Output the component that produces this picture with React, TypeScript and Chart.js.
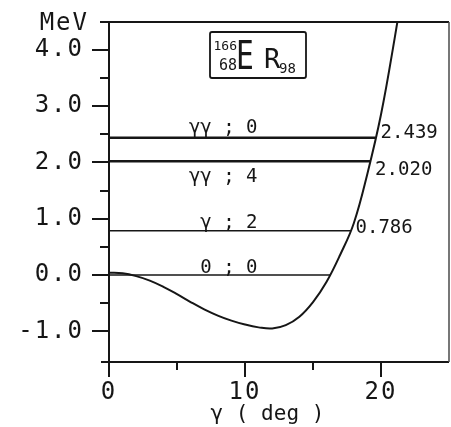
import { useEffect, useRef } from 'react';
import { Chart, registerables } from 'chart.js';

Chart.register(...registerables);

// ---- data ----
const GAMMA_DEG = [0, 1, 2, 3, 4, 5, 6, 7, 8, 9, 10, 11, 12, 13, 14, 15, 16, 17, 18, 19, 20, 21, 22];
const ENERGY_MEV = [0.04, 0.03, -0.02, -0.1, -0.21, -0.34, -0.48, -0.61, -0.72, -0.81, -0.88, -0.93, -0.95, -0.89, -0.74, -0.48, -0.12, 0.36, 0.92, 1.8, 2.85, 4.2, 5.7];

const LEVEL_ENERGY = [0, 0.786, 2.02, 2.439];
const LEVEL_END_GAMMA = [16.25, 17.76, 19.2, 19.6];
const LEVEL_NAMES = ['0 ; 0', 'γ ; 2', 'γγ ; 4', 'γγ ; 0'];
const LEVEL_VALUE_LABELS = ['', '0.786', '2.020', '2.439'];

const Y_MAJOR = [-1, 0, 1, 2, 3, 4];
const Y_MINOR = [-0.5, 0.5, 1.5, 2.5, 3.5];
const X_MAJOR = [0, 10, 20];
const X_MINOR = [5, 15];

const Y_UNIT = 'MeV';
const X_TITLE = 'γ ( deg )';

// ---- layout / style (not data) ----
const INK = '#161616';
const MONO = '"DejaVu Sans Mono", monospace';
const LEVEL_LINE_WIDTH = [1.4, 1.4, 2.6, 2.6];
const NAME_ANCHOR_GAMMA = 10.92;
const NAME_DY = [-2, -3, 21, -5];
const VALUE_DY = [0, 2, 14, 0.5];

const framePlugin = {
  id: 'frame',
  beforeDraw(chart: any) {
    (chart.ctx as any).letterSpacing = '2px';
  },
  afterDraw(chart: any) {
    const ctx = chart.ctx as CanvasRenderingContext2D & { letterSpacing: string };
    const { left, right, top, bottom } = chart.chartArea;
    const xs = chart.scales.x;
    const ys = chart.scales.y;
    ctx.save();
    ctx.strokeStyle = INK;
    ctx.fillStyle = INK;
    ctx.lineCap = 'butt';

    // frame
    ctx.lineWidth = 2;
    ctx.beginPath();
    ctx.moveTo(left, top);
    ctx.lineTo(left, bottom + 15);
    ctx.moveTo(left - 9, top);
    ctx.lineTo(right, top);
    ctx.moveTo(left - 8, bottom);
    ctx.lineTo(right, bottom);
    ctx.stroke();
    ctx.strokeStyle = '#4a4a4a';
    ctx.lineWidth = 1.5;
    ctx.beginPath();
    ctx.moveTo(right, top);
    ctx.lineTo(right, bottom);
    ctx.stroke();

    // tick marks
    ctx.strokeStyle = INK;
    ctx.lineWidth = 2;
    ctx.beginPath();
    Y_MAJOR.forEach((v) => {
      const y = Math.round(ys.getPixelForValue(v));
      ctx.moveTo(left - 17, y);
      ctx.lineTo(left, y);
    });
    Y_MINOR.forEach((v) => {
      const y = Math.round(ys.getPixelForValue(v));
      ctx.moveTo(left - 9, y);
      ctx.lineTo(left, y);
    });
    X_MAJOR.forEach((v) => {
      const x = Math.round(xs.getPixelForValue(v));
      ctx.moveTo(x, bottom);
      ctx.lineTo(x, bottom + 15);
    });
    X_MINOR.forEach((v) => {
      const x = Math.round(xs.getPixelForValue(v));
      ctx.moveTo(x, bottom);
      ctx.lineTo(x, bottom + 8);
    });
    ctx.stroke();

    // level names and values
    ctx.letterSpacing = '0px';
    ctx.font = `19px ${MONO}`;
    ctx.textBaseline = 'alphabetic';
    LEVEL_ENERGY.forEach((e, i) => {
      const yLine = ys.getPixelForValue(e);
      ctx.textAlign = 'right';
      ctx.fillText(LEVEL_NAMES[i], xs.getPixelForValue(NAME_ANCHOR_GAMMA), yLine + NAME_DY[i]);
      if (LEVEL_VALUE_LABELS[i]) {
        ctx.textAlign = 'left';
        ctx.fillText(LEVEL_VALUE_LABELS[i], xs.getPixelForValue(LEVEL_END_GAMMA[i]) + 5, yLine + VALUE_DY[i]);
      }
    });

    // unit and axis title
    ctx.letterSpacing = '2px';
    ctx.font = `24px ${MONO}`;
    ctx.textAlign = 'right';
    ctx.fillText(Y_UNIT, left - 20, top + 8);
    ctx.letterSpacing = '0px';
    ctx.font = `21px ${MONO}`;
    ctx.textAlign = 'center';
    ctx.fillText(X_TITLE, xs.getPixelForValue(11.65), bottom + 58);

    // nucleus box
    const bx = left + 101;
    const by = top + 10;
    ctx.lineWidth = 1.8;
    ctx.beginPath();
    (ctx as any).roundRect(bx, by, 96, 46, 2);
    ctx.stroke();
    ctx.textAlign = 'right';
    ctx.font = `13px ${MONO}`;
    ctx.fillText('166', bx + 27, by + 18);
    ctx.font = `15px ${MONO}`;
    ctx.fillText('68', bx + 27, by + 38);
    ctx.save();
    ctx.translate(bx + 26, by + 37);
    ctx.scale(0.78, 1.05);
    ctx.textAlign = 'left';
    ctx.font = `38px ${MONO}`;
    ctx.fillText('E', 0, 0);
    ctx.restore();
    ctx.textAlign = 'left';
    ctx.font = `27px ${MONO}`;
    ctx.fillText('R', bx + 54, by + 36);
    ctx.font = `14px ${MONO}`;
    ctx.fillText('98', bx + 69, by + 41);
    ctx.restore();
  },
};

export default function App() {
  const ref = useRef<HTMLCanvasElement | null>(null);
  useEffect(() => {
    if (!ref.current) return;
    const curve = GAMMA_DEG.map((g, i) => ({ x: g, y: ENERGY_MEV[i] }));
    const levelSets = LEVEL_ENERGY.map((e, i) => ({
      label: LEVEL_NAMES[i],
      data: [
        { x: 0, y: e },
        { x: LEVEL_END_GAMMA[i], y: e },
      ],
      borderColor: INK,
      borderWidth: LEVEL_LINE_WIDTH[i],
      pointRadius: 0,
      tension: 0,
    }));
    const chart = new Chart(ref.current, {
      type: 'line',
      data: {
        datasets: [
          {
            label: 'E(γ)',
            data: curve,
            borderColor: INK,
            borderWidth: 2,
            pointRadius: 0,
            tension: 0.4,
          },
          ...levelSets,
        ],
      },
      options: {
        animation: false,
        responsive: false,
        events: [],
        layout: { padding: { top: 22, right: 2, left: 0, bottom: 0 } },
        plugins: { legend: { display: false }, tooltip: { enabled: false } },
        scales: {
          x: {
            type: 'linear',
            min: 0,
            max: 25,
            grid: { display: false, drawTicks: false },
            border: { display: false },
            afterFit: (s: any) => {
              s.height = 65;
              s.paddingLeft = 0;
              s.paddingRight = 0;
            },
            afterBuildTicks: (s: any) => {
              s.ticks = X_MAJOR.map((v) => ({ value: v }));
            },
            ticks: {
              autoSkip: false,
              maxRotation: 0,
              padding: 16,
              color: INK,
              font: { family: MONO, size: 24 },
              callback: (v: any) => String(v),
            },
          },
          y: {
            type: 'linear',
            min: -1.545,
            max: 4.494,
            grid: { display: false, drawTicks: false },
            border: { display: false },
            afterFit: (s: any) => {
              s.width = 109;
              s.paddingTop = 0;
              s.paddingBottom = 0;
            },
            afterBuildTicks: (s: any) => {
              s.ticks = Y_MAJOR.map((v) => ({ value: v }));
            },
            ticks: {
              autoSkip: false,
              padding: 25,
              color: INK,
              font: { family: MONO, size: 24 },
              callback: (v: any) => Number(v).toFixed(1),
            },
          },
        },
      } as any,
      plugins: [framePlugin],
    });
    return () => chart.destroy();
  }, []);
  return (
    <div style={{ position: 'fixed', left: 0, top: 0, width: 451, height: 427, background: '#fff' }}>
      <canvas ref={ref} width={451} height={427} style={{ display: 'block' }} />
    </div>
  );
}
